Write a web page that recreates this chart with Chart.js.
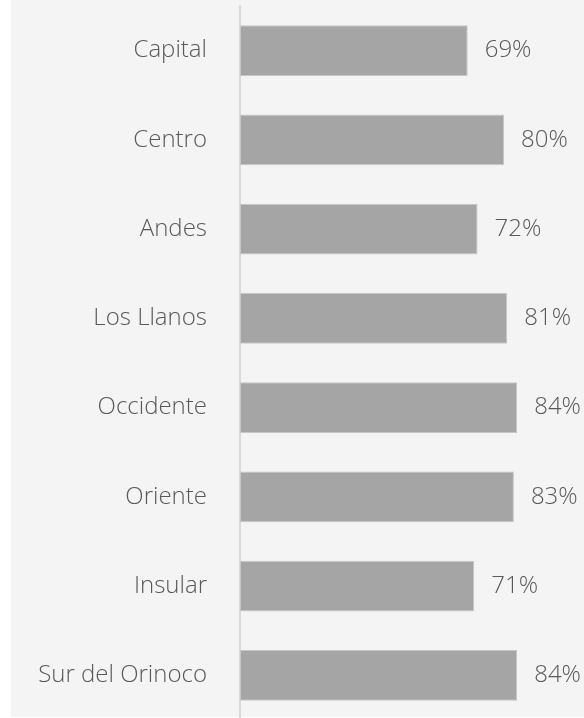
<!DOCTYPE html>
<html>
<head>
<meta charset="utf-8">
<script src="https://cdn.jsdelivr.net/npm/chart.js@4/dist/chart.umd.min.js"></script>
<style>
  html, body { margin: 0; padding: 0; background: #ffffff; overflow: hidden; }
  #wrap { position: relative; width: 584px; height: 718px; overflow: hidden; }
  #c { position: absolute; left: 0; top: 0; }
</style>
</head>
<body>
<div id="wrap"><canvas id="c" width="584" height="721"></canvas></div>
<script>
const categories = ["Capital", "Centro", "Andes", "Los Llanos", "Occidente", "Oriente", "Insular", "Sur del Orinoco"];
const values = [69, 80, 72, 81, 84, 83, 71, 84];
const valueLabels = ["69%", "80%", "72%", "81%", "84%", "83%", "71%", "84%"];

const FONT = "'Open Sans', 'Noto Sans', sans-serif";
const TEXT = "#595959";

const bgPlugin = {
  id: 'bg',
  beforeDraw(chart) {
    const ctx = chart.ctx;
    ctx.save();
    ctx.fillStyle = '#f4f4f4';
    ctx.fillRect(11, 0, 573, 717);
    ctx.restore();
  }
};

const labelPlugin = {
  id: 'valLabels',
  afterDatasetsDraw(chart) {
    const ctx = chart.ctx;
    const meta = chart.getDatasetMeta(0);
    ctx.save();
    ctx.fillStyle = TEXT;
    ctx.font = "300 24px " + FONT;
    ctx.textAlign = 'left';
    ctx.textBaseline = 'middle';
    meta.data.forEach((bar, i) => {
      ctx.fillText(valueLabels[i], bar.x + 17, bar.y);
    });
    ctx.restore();
  }
};

new Chart(document.getElementById('c'), {
  type: 'bar',
  data: {
    labels: categories,
    datasets: [{
      data: values,
      backgroundColor: '#a5a5a5',
      borderColor: '#c6c6c6',
      borderWidth: 1,
      borderSkipped: false,
      categoryPercentage: 1,
      barPercentage: 0.571
    }]
  },
  options: {
    indexAxis: 'y',
    responsive: false,
    animation: false,
    layout: { padding: { left: 0, right: 14, top: 6, bottom: 1 } },
    plugins: { legend: { display: false }, tooltip: { enabled: false } },
    scales: {
      x: {
        display: false,
        min: 0,
        max: 100
      },
      y: {
        afterFit(scale) {
          scale.width = 240;
          scale.paddingTop = 0;
          scale.paddingBottom = 0;
        },
        grid: { display: false, drawTicks: false },
        border: { display: true, color: '#d9d9d9', width: 2 },
        ticks: {
          color: TEXT,
          padding: 33,
          font: { family: FONT, size: 24, weight: '300' }
        }
      }
    }
  },
  plugins: [bgPlugin, labelPlugin]
});
</script>
</body>
</html>
